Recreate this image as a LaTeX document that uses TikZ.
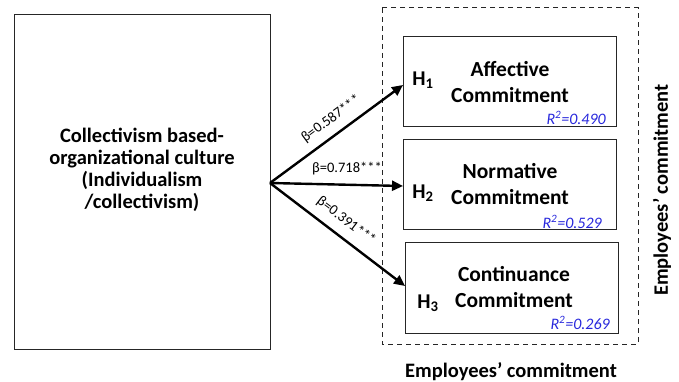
\documentclass[tikz,border=0pt]{standalone}
\usepackage{fontspec}
\setmainfont{Carlito}
\usetikzlibrary{arrows.meta}
\definecolor{rblue}{RGB}{40,40,220}
\begin{document}
\begin{tikzpicture}[x=1pt,y=-1pt,
  box/.style={draw=black!85,line width=1pt},
  dbox/.style={draw=black!85,line width=1pt,dash pattern=on 5pt off 4pt},
  big/.style={font=\fontsize{20.5}{22}\selectfont\bfseries,align=center,inner sep=0pt},
  inbig/.style={font=\fontsize{21.5}{26.5}\selectfont\bfseries,align=center,inner sep=0pt},
  hyp/.style={font=\fontsize{21}{21}\selectfont\bfseries,inner sep=0pt},
  rsq/.style={font=\fontsize{16}{17}\selectfont\itshape,text=rblue,inner sep=0pt,anchor=east},
  beta/.style={font=\fontsize{14.5}{17}\selectfont,inner sep=0pt},
  arr/.style={line width=2.4pt,-{Triangle[length=11pt,width=10pt]}}]
\useasboundingbox (0,0) rectangle (679,382);
% left box
\draw[box] (14,15) rectangle (270,349);
\node[big] (src) at (142,170) {Collectivism based-\\organizational culture\\(Individualism\\/collectivism)};
\coordinate (o) at (270,183);
% dashed box
\draw[dbox] (382,8) rectangle (638,344);
% inner boxes
\draw[box] (403,37) rectangle (616,127);
\draw[box] (403,140) rectangle (616,229);
\draw[box] (405,242) rectangle (618,333);
\coordinate (e1) at (403,85);
\coordinate (e2) at (403,186);
\coordinate (e3) at (405,286);
\node[inbig] (t1) at (510,82) {Affective\\Commitment};
\node[inbig] (t2) at (510,184) {Normative\\Commitment};
\node[inbig] (t3) at (514,287) {Continuance\\Commitment};
\node[hyp] (h1) at (423,80) {H\textsubscript{1}};
\node[hyp] (h2) at (423,193) {H\textsubscript{2}};
\node[hyp] (h3) at (428,303) {H\textsubscript{3}};
\node[rsq] (r1) at (606,118) {R\textsuperscript{2}=0.490};
\node[rsq] (r2) at (602,222) {R\textsuperscript{2}=0.529};
\node[rsq] (r3) at (610,323) {R\textsuperscript{2}=0.269};
% arrows
\draw[arr] (o) -- (e1);
\draw[arr] (o) -- (e2);
\draw[arr] (o) -- (e3);
\node[beta,rotate=36.4] (b1) at (331,119) {β=0.587***};
\node[beta] (b2) at (347,169) {β=0.718***};
\node[beta,rotate=-37.5] (b3) at (346,221) {β=0.391***};
% side labels
\node[big,rotate=90] (side) at (662,190) {Employees’ commitment};
\node[big] (bottom) at (511,372) {Employees’ commitment};
\end{tikzpicture}
\end{document}
